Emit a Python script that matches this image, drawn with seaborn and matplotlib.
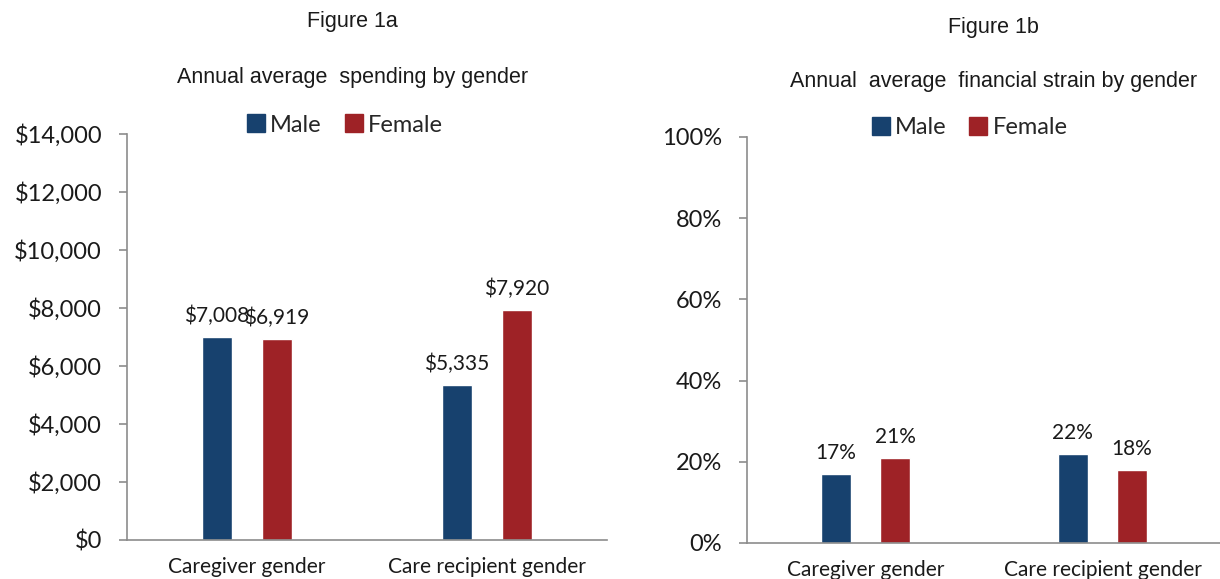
import numpy as np
import pandas as pd
import matplotlib
matplotlib.use("Agg")
import matplotlib.pyplot as plt
import seaborn as sns

# values
groups = ["Caregiver gender", "Care recipient gender"]
genders = ["Male", "Female"]
spending_male = [7008, 5335]
spending_female = [6919, 7920]
strain_male = [0.17, 0.22]
strain_female = [0.21, 0.18]

spend_ticks = [0, 2000, 4000, 6000, 8000, 10000, 12000, 14000]
strain_ticks = [0, 0.2, 0.4, 0.6, 0.8, 1.0]

colors = {"Male": "#17416E", "Female": "#9E2226"}
axis_grey = "#8C8C8C"
text_col = "#1a1a1a"

spend = pd.DataFrame({
    "group": groups * 2,
    "gender": ["Male"] * 2 + ["Female"] * 2,
    "value": spending_male + spending_female,
})
strain = pd.DataFrame({
    "group": groups * 2,
    "gender": ["Male"] * 2 + ["Female"] * 2,
    "value": strain_male + strain_female,
})

sns.set_style("white")
plt.rcParams["font.family"] = ["Lato", "DejaVu Sans"]

fig = plt.figure(figsize=(12.2, 5.79), dpi=100)
ax1 = fig.add_axes([0.1041, 0.0674, 0.3934, 0.7012])
ax2 = fig.add_axes([0.6123, 0.0622, 0.3885, 0.7012])


def draw(ax, df, ticks, tick_fmt, lab_fmt, title_x, fig_label, subtitle, y_fig, y_sub, y_leg, leg_x):
    sns.barplot(data=df, x="group", y="value", hue="gender", hue_order=genders,
                palette=colors, width=0.5, gap=0.5, saturation=1, ax=ax,
                legend=True, errorbar=None)
    for cont, g in zip(ax.containers, genders):
        vals = df[df.gender == g]["value"].tolist()
        ax.bar_label(cont, labels=[lab_fmt(v) for v in vals], padding=8,
                     fontsize=15, color=text_col)
    ax.set_xlim(-0.5, 1.5)
    ax.set_ylim(0, ticks[-1])
    ax.set_yticks(ticks)
    ax.set_yticklabels([tick_fmt(t) for t in ticks], fontsize=17, color=text_col)
    ax.set_xticks([0, 1])
    ax.set_xticklabels(groups, fontsize=15, color=text_col)
    ax.set_xticks([-0.5, 0.5, 1.5], minor=True)
    ax.tick_params(axis="x", which="major", length=0, pad=12)
    ax.tick_params(axis="x", which="minor", length=7, color=axis_grey, width=1.2)
    ax.tick_params(axis="y", length=6, color=axis_grey, width=1.2, pad=12, left=True)
    ax.set_xlabel("")
    ax.set_ylabel("")
    for s in ["top", "right"]:
        ax.spines[s].set_visible(False)
    for s in ["left", "bottom"]:
        ax.spines[s].set_color(axis_grey)
        ax.spines[s].set_linewidth(1.2)
    ax.legend_.remove()
    handles = [plt.Line2D([], [], marker="s", linestyle="", markersize=13,
                          color=colors[g]) for g in genders]
    fig.legend(handles, genders, loc="center", bbox_to_anchor=(leg_x, y_leg),
               ncol=2, frameon=False, fontsize=17, handlelength=0.7,
               handletextpad=0.25, columnspacing=1.0)
    fig.text(title_x, y_fig, fig_label, ha="center", va="center",
             fontsize=15.5, family="Liberation Sans", color=text_col)
    fig.text(title_x, y_sub, subtitle, ha="center", va="center",
             fontsize=15.5, family="Liberation Sans", color=text_col)


draw(ax1, spend, spend_ticks, lambda t: f"${t:,.0f}", lambda v: f"${v:,.0f}",
     0.289, "Figure 1a", "Annual average  spending by gender",
     1 - 22 / 579, 1 - 77 / 579, 1 - 125 / 579, 0.283)
draw(ax2, strain, strain_ticks, lambda t: f"{t:.0%}", lambda v: f"{v:.0%}",
     0.814, "Figure 1b", "Annual  average  financial strain by gender",
     1 - 28 / 579, 1 - 82 / 579, 1 - 128 / 579, 0.795)

fig.savefig("out.png", dpi=100)
